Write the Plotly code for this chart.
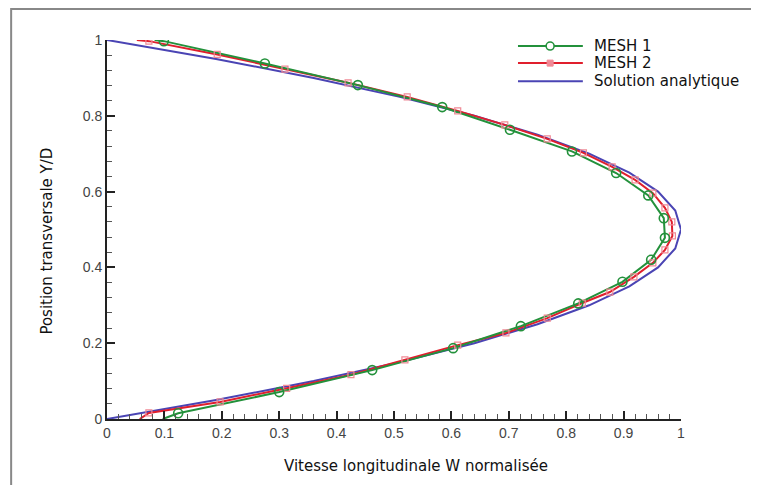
import plotly.graph_objects as go

# -----------------------------------------------------------------------------
# DATA

# MESH 1 : line end points (wall) and cell values with markers
mesh1_w = [0.083, 0.099, 0.275, 0.437, 0.584, 0.702, 0.810, 0.887, 0.943, 0.970,
           0.972, 0.948, 0.898, 0.821, 0.721, 0.603, 0.462, 0.300, 0.124, 0.097]
mesh1_y = [1.000, 0.997, 0.938, 0.881, 0.823, 0.763, 0.706, 0.649, 0.590, 0.530,
           0.478, 0.420, 0.362, 0.305, 0.245, 0.187, 0.129, 0.071, 0.015, 0.000]

# MESH 2
mesh2_w = [0.052, 0.073, 0.192, 0.310, 0.420, 0.523, 0.611, 0.693, 0.767, 0.830,
           0.880, 0.920, 0.951, 0.972, 0.984, 0.985, 0.972, 0.951, 0.918, 0.876,
           0.828, 0.767, 0.695, 0.611, 0.519, 0.425, 0.313, 0.197, 0.073, 0.057]
mesh2_y = [1.000, 0.997, 0.962, 0.923, 0.887, 0.850, 0.813, 0.776, 0.739, 0.702,
           0.665, 0.631, 0.596, 0.557, 0.520, 0.483, 0.446, 0.412, 0.375, 0.335,
           0.306, 0.266, 0.227, 0.195, 0.156, 0.117, 0.081, 0.045, 0.016, 0.000]

# Solution analytique
ana_w = [0.0, 0.19, 0.36, 0.51, 0.64, 0.75, 0.84, 0.91, 0.96, 0.99, 1.0,
         0.99, 0.96, 0.91, 0.84, 0.75, 0.64, 0.51, 0.36, 0.19, 0.0]
ana_y = [0.0, 0.05, 0.10, 0.15, 0.20, 0.25, 0.30, 0.35, 0.40, 0.45, 0.50,
         0.55, 0.60, 0.65, 0.70, 0.75, 0.80, 0.85, 0.90, 0.95, 1.0]

x_ticks = [0, 0.1, 0.2, 0.3, 0.4, 0.5, 0.6, 0.7, 0.8, 0.9, 1]
x_labels = ['0', '0.1', '0.2', '0.3', '0.4', '0.5', '0.6', '0.7', '0.8', '0.9', '1']
y_ticks = [0, 0.2, 0.4, 0.6, 0.8, 1]
y_labels = ['0', '0.2', '0.4', '0.6', '0.8', '1']

legend_names = ['MESH 1', 'MESH 2', 'Solution analytique']

# -----------------------------------------------------------------------------
# COLOURS
green = '#23913b'
red = '#e01f2d'
red_mk = '#f08a96'
blue = '#4a44b4'

fig = go.Figure()

# lines (wall end points included, no markers)
fig.add_trace(go.Scatter(x=ana_w, y=ana_y, mode='lines', name=legend_names[2],
                         line=dict(color=blue, width=2)))
fig.add_trace(go.Scatter(x=mesh2_w, y=mesh2_y, mode='lines', name=legend_names[1],
                         line=dict(color=red, width=2)))
fig.add_trace(go.Scatter(x=mesh1_w, y=mesh1_y, mode='lines', name=legend_names[0],
                         line=dict(color=green, width=2)))

# markers on the cell values only
fig.add_trace(go.Scatter(x=mesh2_w[1:-1], y=mesh2_y[1:-1], mode='markers', name=legend_names[1],
                         marker=dict(symbol='square-open', size=6, color=red_mk,
                                     line=dict(width=1.2, color=red_mk))))
fig.add_trace(go.Scatter(x=mesh1_w[1:-1], y=mesh1_y[1:-1], mode='markers', name=legend_names[0],
                         marker=dict(symbol='circle-open', size=9, color=green,
                                     line=dict(width=1.6, color=green))))

axis_common = dict(
    showline=True, linecolor='#222', linewidth=2, mirror=False,
    ticks='inside', ticklen=8, tickwidth=2, tickcolor='#222',
    showgrid=False, zeroline=False,
    tickfont=dict(family='Liberation Sans, Arial', size=14, color='#444'),
)

fig.update_xaxes(range=[0, 1], tickvals=x_ticks, ticktext=x_labels,
                 minor=dict(dtick=0.02, ticks='inside', ticklen=5, tickwidth=1,
                            tickcolor='#555', showgrid=False),
                 **axis_common)
fig.update_yaxes(range=[0, 1], tickvals=y_ticks, ticktext=y_labels,
                 minor=dict(dtick=0.04, ticks='inside', ticklen=5, tickwidth=1,
                            tickcolor='#555', showgrid=False),
                 **axis_common)

# axis titles
fig.add_annotation(text='Vitesse longitudinale W normalisée', xref='paper', yref='paper',
                   x=0.538, y=-0.125, xanchor='center', yanchor='middle', showarrow=False,
                   font=dict(family='DejaVu Sans', size=15, color='#111'))
fig.add_annotation(text='Position transversale Y/D', xref='paper', yref='paper',
                   x=-0.105, y=0.47, xanchor='center', yanchor='middle', showarrow=False,
                   textangle=-90, font=dict(family='DejaVu Sans', size=15, color='#111'))

# legend drawn in the plot (Tecplot style, tight rows)
leg_x0, leg_x1, leg_xm, leg_xt = 0.716, 0.829, 0.772, 0.845
leg_rows = [0.984, 0.939, 0.891]
leg_colors = [green, red, blue]
for name, col, yy in zip(legend_names, leg_colors, leg_rows):
    fig.add_shape(type='line', xref='paper', yref='paper', x0=leg_x0, x1=leg_x1, y0=yy, y1=yy,
                  line=dict(color=col, width=2))
    fig.add_annotation(text=name, xref='paper', yref='paper', x=leg_xt, y=yy,
                       xanchor='left', yanchor='middle', showarrow=False,
                       font=dict(family='DejaVu Sans', size=15, color='#111'))
fig.add_shape(type='circle', xref='paper', yref='paper', xsizemode='pixel', ysizemode='pixel',
              xanchor=leg_xm, yanchor=leg_rows[0], x0=-4, x1=4, y0=-4, y1=4,
              line=dict(color=green, width=1.6), fillcolor='white')
fig.add_shape(type='rect', xref='paper', yref='paper', xsizemode='pixel', ysizemode='pixel',
              xanchor=leg_xm, yanchor=leg_rows[1], x0=-3, x1=3, y0=-3, y1=3,
              line=dict(color=red_mk, width=1), fillcolor=red_mk)

# outer frame
fig.add_shape(type='rect', xref='paper', yref='paper',
              x0=-0.167, y0=-0.5, x1=1.3, y1=1.082,
              line=dict(color='#888', width=2), fillcolor='rgba(0,0,0,0)', layer='below')

fig.update_layout(
    width=751, height=477,
    margin=dict(l=99, r=78, t=32, b=66),
    paper_bgcolor='white', plot_bgcolor='white',
    showlegend=False,
)

fig.write_html("out.html")
